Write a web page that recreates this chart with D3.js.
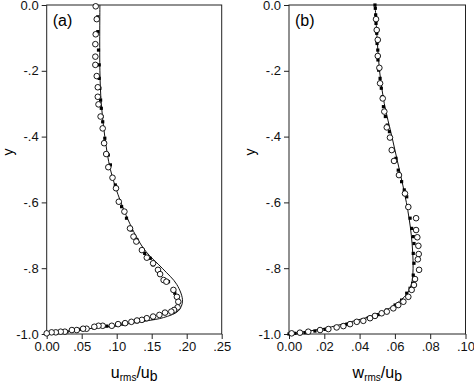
<!DOCTYPE html>
<html>
<head>
<meta charset="utf-8">
<script src="https://cdn.jsdelivr.net/npm/d3@7"></script>
<style>
  body { margin: 0; background: #fff; }
  svg { font-family: "Liberation Sans", Arial, sans-serif; }
</style>
</head>
<body>
<script>
const WIDTH = 474
const HEIGHT = 387

// y positions shared by the tick labels
const yTicks = [0, -0.2, -0.4, -0.6, -0.8, -1.0]
const yTickLabels = ['0.0', '-.2', '-.4', '-.6', '-.8', '-1.0']

// panel (a): u_rms / u_b
const uTicks = [0, 0.05, 0.10, 0.15, 0.20, 0.25]
const uTickLabels = ['0.00', '.05', '.10', '.15', '.20', '.25']
const uLine = [
  [0.076, 0], [0.076, -0.2], [0.078, -0.3], [0.083, -0.4], [0.091, -0.5],
  [0.106, -0.6], [0.127, -0.7], [0.142, -0.75], [0.165, -0.8], [0.186, -0.85],
  [0.194, -0.9], [0.188, -0.93], [0.167, -0.95], [0.143, -0.96], [0.122, -0.967],
  [0.098, -0.975], [0.060, -0.984], [0.022, -0.994], [0, -1]
]
const uSquares = [
  [0.073, -0.036], [0.073, -0.081], [0.074, -0.137], [0.075, -0.182], [0.075, -0.223],
  [0.076, -0.253], [0.077, -0.289], [0.078, -0.314], [0.079, -0.339], [0.080, -0.355],
  [0.083, -0.405], [0.088, -0.456], [0.091, -0.486], [0.098, -0.547], [0.107, -0.613],
  [0.114, -0.648], [0.121, -0.684], [0.129, -0.714], [0.140, -0.755], [0.148, -0.770],
  [0.152, -0.790], [0.159, -0.805], [0.174, -0.841], [0.183, -0.876], [0.187, -0.897],
  [0.185, -0.922], [0.179, -0.932], [0.152, -0.952], [0.138, -0.957], [0.129, -0.963],
  [0.109, -0.970], [0.100, -0.973], [0.086, -0.976], [0.067, -0.981], [0.048, -0.986],
  [0.029, -0.993], [0.014, -0.996], [0, -0.998]
]
const uCircles = [
  [0.070, -0.004], [0.0715, -0.043], [0.070, -0.089], [0.0695, -0.119], [0.0695, -0.157],
  [0.0695, -0.182], [0.0715, -0.216], [0.073, -0.250], [0.073, -0.279], [0.074, -0.302],
  [0.077, -0.339], [0.080, -0.375], [0.082, -0.420], [0.085, -0.453], [0.088, -0.493],
  [0.094, -0.525], [0.099, -0.557], [0.103, -0.598], [0.111, -0.628], [0.119, -0.679],
  [0.124, -0.704], [0.128, -0.719], [0.136, -0.745], [0.143, -0.768], [0.152, -0.785],
  [0.159, -0.805], [0.162, -0.818], [0.167, -0.836], [0.171, -0.841], [0.181, -0.866],
  [0.186, -0.887], [0.188, -0.902], [0.187, -0.919], [0.182, -0.927], [0.178, -0.932],
  [0.169, -0.935], [0.161, -0.942], [0.152, -0.947], [0.143, -0.952], [0.136, -0.957],
  [0.129, -0.959], [0.121, -0.963], [0.112, -0.967], [0.102, -0.970], [0.093, -0.975],
  [0.080, -0.975], [0.074, -0.975], [0.068, -0.978], [0.057, -0.984], [0.052, -0.984],
  [0.043, -0.988], [0.036, -0.988], [0.026, -0.993], [0.020, -0.993], [0.013, -0.995],
  [0.007, -0.995], [0, -0.998]
]

// panel (b): w_rms / u_b
const wTicks = [0, 0.02, 0.04, 0.06, 0.08, 0.10]
const wTickLabels = ['0.00', '.02', '.04', '.06', '.08', '.10']
const wLine = [
  [0.0488, 0], [0.0499, -0.1], [0.0513, -0.2], [0.0540, -0.3], [0.0583, -0.4],
  [0.0625, -0.5], [0.0665, -0.6], [0.0693, -0.7], [0.0703, -0.8], [0.0693, -0.85],
  [0.0665, -0.88], [0.061, -0.907], [0.0535, -0.932], [0.046, -0.947], [0.037, -0.96],
  [0.028, -0.973], [0.020, -0.983], [0.009, -0.993], [0, -1]
]
const wSquares = [
  [0.0487, 0], [0.0489, -0.01], [0.0491, -0.030], [0.0493, -0.056], [0.0497, -0.086],
  [0.0499, -0.117], [0.0503, -0.137], [0.0504, -0.167], [0.0508, -0.198], [0.0516, -0.223],
  [0.0523, -0.253], [0.0529, -0.279], [0.0535, -0.309], [0.0546, -0.339], [0.0557, -0.365],
  [0.0569, -0.385], [0.0591, -0.441], [0.0606, -0.466], [0.0619, -0.502], [0.0638, -0.537],
  [0.0653, -0.562], [0.0667, -0.583], [0.0686, -0.648], [0.0695, -0.679], [0.0704, -0.704],
  [0.0708, -0.725], [0.0704, -0.755], [0.0708, -0.785], [0.0704, -0.821], [0.0701, -0.846],
  [0.0686, -0.861], [0.0667, -0.876], [0.0638, -0.897], [0.0601, -0.912], [0.0554, -0.927],
  [0.0506, -0.941], [0.0449, -0.951], [0.0384, -0.963], [0.0327, -0.971], [0.0270, -0.978],
  [0.0204, -0.986], [0.0147, -0.991], [0.0091, -0.996], [0.0034, -0.998], [0, -1]
]
const wCircles = [
  [0.0493, -0.043], [0.0497, -0.076], [0.0503, -0.106], [0.0503, -0.155], [0.0512, -0.191],
  [0.0516, -0.238], [0.0531, -0.284], [0.054, -0.324], [0.0554, -0.372], [0.0572, -0.403],
  [0.0582, -0.441], [0.0595, -0.474], [0.0623, -0.517], [0.0657, -0.573], [0.0676, -0.614],
  [0.072, -0.648], [0.072, -0.684], [0.0727, -0.706], [0.0733, -0.732], [0.0735, -0.757],
  [0.0730, -0.773], [0.0737, -0.805], [0.0714, -0.833], [0.0708, -0.851], [0.0695, -0.866],
  [0.0676, -0.887], [0.0648, -0.902], [0.0619, -0.912], [0.0591, -0.922], [0.0554, -0.932],
  [0.0525, -0.937], [0.0487, -0.945], [0.0459, -0.952], [0.0421, -0.960], [0.0384, -0.963],
  [0.0346, -0.970], [0.0308, -0.976], [0.0270, -0.980], [0.0223, -0.985], [0.0176, -0.988],
  [0.0109, -0.993], [0.0062, -0.996], [0.0015, -0.998]
]

const svg = d3.select('body').append('svg')
  .attr('width', WIDTH)
  .attr('height', HEIGHT)

function drawPanel(opts) {
  const x = d3.scaleLinear().domain(opts.xDomain).range([opts.left, opts.right])
  const y = d3.scaleLinear().domain([-1, 0]).range([334, 5])
  const g = svg.append('g')

  // axes (outward ticks, labels from arrays)
  g.append('g')
    .attr('transform', 'translate(0,334)')
    .call(d3.axisBottom(x).tickValues(opts.xTicks)
      .tickFormat((d, i) => opts.xTickLabels[i]).tickSize(5).tickSizeOuter(0))
  g.append('g')
    .attr('transform', `translate(${opts.left},0)`)
    .call(d3.axisLeft(y).tickValues(yTicks)
      .tickFormat((d, i) => yTickLabels[i]).tickSize(5).tickSizeOuter(0))
  g.selectAll('.domain').remove()
  g.selectAll('.tick line').attr('stroke', '#222')
  g.selectAll('.tick text').attr('font-size', 13).attr('fill', '#111')
    .attr('font-family', '"Liberation Sans", Arial, sans-serif')

  // frame
  g.append('rect')
    .attr('x', opts.left).attr('y', 5)
    .attr('width', opts.right - opts.left).attr('height', 329)
    .attr('fill', 'none').attr('stroke', '#222').attr('stroke-width', 1)

  // solid curve
  g.append('path')
    .datum(opts.line)
    .attr('fill', 'none')
    .attr('stroke', '#111')
    .attr('stroke-width', 1)
    .attr('d', d3.line().x(d => x(d[0])).y(d => y(d[1])).curve(d3.curveCatmullRom))

  // filled squares
  g.append('g')
    .selectAll('rect')
    .data(opts.squares)
    .enter()
    .append('rect')
    .attr('x', d => x(d[0]) - 1.6)
    .attr('y', d => y(d[1]) - 1.6)
    .attr('width', 3.2)
    .attr('height', 3.2)
    .attr('fill', '#000')

  // open circles
  g.append('g')
    .selectAll('circle')
    .data(opts.circles)
    .enter()
    .append('circle')
    .attr('cx', d => x(d[0]))
    .attr('cy', d => y(d[1]))
    .attr('r', 2.8)
    .attr('fill', '#fff')
    .attr('stroke', '#000')
    .attr('stroke-width', 0.9)

  // panel tag
  g.append('text')
    .attr('x', opts.left + 6).attr('y', 26)
    .attr('font-size', 16)
    .text(opts.tag)

  // y title
  g.append('text')
    .attr('transform', `translate(${opts.left - 34},152) rotate(-90)`)
    .attr('text-anchor', 'middle')
    .attr('font-size', 14)
    .text('y')

  // x title with subscripts
  const t = g.append('text')
    .attr('x', (opts.left + opts.right) / 2).attr('y', 378)
    .attr('text-anchor', 'middle')
    .attr('font-size', 16)
  t.append('tspan').text(opts.xVar)
  t.append('tspan').attr('font-size', 10).attr('dy', 3).text('rms')
  t.append('tspan').attr('dy', -3).text('/u')
  t.append('tspan').attr('font-size', 14).attr('dy', 3).text('b')
}

drawPanel({
  left: 46.7, right: 221.7, xDomain: [0, 0.25],
  xTicks: uTicks, xTickLabels: uTickLabels,
  line: uLine, squares: uSquares, circles: uCircles,
  tag: '(a)', xVar: 'u'
})

drawPanel({
  left: 289, right: 465.5, xDomain: [0, 0.10],
  xTicks: wTicks, xTickLabels: wTickLabels,
  line: wLine, squares: wSquares, circles: wCircles,
  tag: '(b)', xVar: 'w'
})
</script>
</body>
</html>
